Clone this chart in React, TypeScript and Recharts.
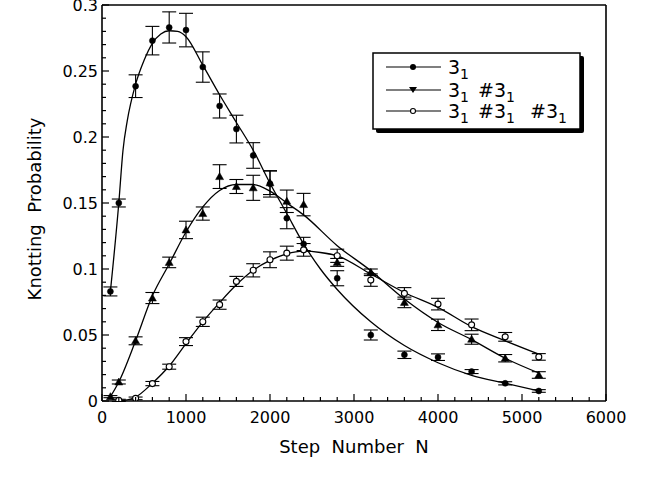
import React from 'react';
import { ComposedChart, Line, XAxis, YAxis, ErrorBar, ReferenceLine, Legend } from 'recharts';

// ---- measured points (filled circles: 3_1) ----
const steps1 = [100, 200, 400, 600, 800, 1000, 1200, 1400, 1600, 1800, 2000, 2200, 2400, 2800, 3200, 3600, 4000, 4400, 4800, 5200];
const prob1 = [0.083, 0.150, 0.2385, 0.273, 0.283, 0.281, 0.253, 0.2235, 0.206, 0.186, 0.1645, 0.1385, 0.119, 0.093, 0.050, 0.035, 0.0332, 0.0223, 0.0134, 0.0076];
const err1 = [0.0034, 0.003, 0.0086, 0.0108, 0.0118, 0.0127, 0.0115, 0.0091, 0.0105, 0.0097, 0.010, 0.008, 0.005, 0.0057, 0.0038, 0.0028, 0.0025, 0.0015, 0.0012, 0.001];

// ---- measured points (triangles: 3_1 # 3_1) ----
const steps2 = [100, 200, 400, 600, 800, 1000, 1200, 1400, 1600, 1800, 2000, 2200, 2400, 2800, 3200, 3600, 4000, 4400, 4800, 5200];
const prob2 = [0.0033, 0.0144, 0.0456, 0.078, 0.105, 0.1296, 0.142, 0.170, 0.1625, 0.1615, 0.1653, 0.1513, 0.1488, 0.105, 0.0975, 0.0747, 0.0577, 0.0468, 0.0324, 0.0197];
const err2 = [0.0008, 0.0015, 0.003, 0.0042, 0.004, 0.0066, 0.005, 0.009, 0.0053, 0.0095, 0.0089, 0.0085, 0.0085, 0.003, 0.0025, 0.004, 0.0043, 0.0038, 0.0028, 0.0025];

// ---- measured points (open circles: 3_1 # 3_1 # 3_1) ----
const steps3 = [200, 400, 600, 800, 1000, 1200, 1400, 1600, 1800, 2000, 2200, 2400, 2800, 3200, 3600, 4000, 4400, 4800, 5200];
const prob3 = [0.0005, 0.002, 0.0132, 0.026, 0.045, 0.060, 0.073, 0.0906, 0.099, 0.107, 0.112, 0.1145, 0.110, 0.0916, 0.0815, 0.0734, 0.0577, 0.0486, 0.0334];
const err3 = [0.0008, 0.001, 0.0016, 0.0019, 0.003, 0.0035, 0.0035, 0.0038, 0.005, 0.006, 0.0053, 0.0048, 0.005, 0.0047, 0.0044, 0.0044, 0.0044, 0.0033, 0.0025];

// ---- fitted curves ----
const fitSteps1 = [100, 200, 250, 300, 400, 500, 600, 700, 800, 900, 1000, 1200, 1400, 1600, 1800, 2000, 2200, 2400, 2600, 2800, 3200, 3600, 4000, 4400, 4800, 5200];
const fitProb1 = [0.083, 0.150, 0.19, 0.212, 0.240, 0.258, 0.271, 0.278, 0.2805, 0.280, 0.276, 0.2544, 0.232, 0.211, 0.190, 0.165, 0.142, 0.119, 0.100, 0.0845, 0.060, 0.042, 0.029, 0.0195, 0.0135, 0.0076];

const fitSteps2 = [100, 200, 400, 600, 800, 1000, 1200, 1400, 1600, 1800, 2000, 2200, 2400, 2800, 3200, 3600, 4000, 4400, 4800, 5200];
const fitProb2 = [0.0033, 0.0144, 0.0456, 0.0797, 0.1038, 0.128, 0.147, 0.1595, 0.164, 0.164, 0.159, 0.150, 0.141, 0.1177, 0.0987, 0.0772, 0.0595, 0.0465, 0.0324, 0.0212];

const fitSteps3 = [200, 300, 400, 600, 800, 1000, 1200, 1400, 1600, 1800, 2000, 2200, 2400, 2600, 2800, 3200, 3600, 4000, 4400, 4800, 5200];
const fitProb3 = [0.0002, 0.0008, 0.003, 0.0135, 0.0265, 0.0435, 0.060, 0.0745, 0.088, 0.099, 0.1065, 0.1115, 0.1135, 0.1125, 0.110, 0.0962, 0.0822, 0.0709, 0.0563, 0.0456, 0.0355];

// ---- ticks ----
const xMajorTicks = [0, 1000, 2000, 3000, 4000, 5000, 6000];
const xMinorStep = 200;
const yMajorTicks = [0, 0.05, 0.1, 0.15, 0.2, 0.25, 0.3];
const yMinorStep = 0.01;

const xTicks = Array.from({ length: 6000 / xMinorStep + 1 }, (_, i) => i * xMinorStep);
const yTicks = Array.from({ length: 31 }, (_, i) => Math.round(i * yMinorStep * 100) / 100);

const rows = (n: number[], p: number[], e?: number[]) =>
  n.map((N, i) => (e ? { N, P: p[i], E: e[i] } : { N, P: p[i] }));

const data1 = rows(steps1, prob1, err1);
const data2 = rows(steps2, prob2, err2);
const data3 = rows(steps3, prob3, err3);
const fit1 = rows(fitSteps1, fitProb1);
const fit2 = rows(fitSteps2, fitProb2);
const fit3 = rows(fitSteps3, fitProb3);

const FONT = '"DejaVu Sans", Verdana, sans-serif';

const XTick = (props: any) => {
  const { x, y, payload } = props;
  const v = payload.value;
  const major = xMajorTicks.includes(v);
  return (
    <g>
      <line x1={x} x2={x} y1={y} y2={y - (major ? 7 : 4)} stroke="#000" strokeWidth={1.2} />
      {major && (
        <text x={x} y={y + 22} textAnchor="middle" fontSize={16} fontFamily={FONT} fill="#000">
          {v}
        </text>
      )}
    </g>
  );
};

const YTick = (props: any) => {
  const { x, y, payload } = props;
  const v = payload.value;
  const major = yMajorTicks.some((m) => Math.abs(m - v) < 1e-9);
  return (
    <g>
      <line x1={x} x2={x + (major ? 7 : 4)} y1={y} y2={y} stroke="#000" strokeWidth={1.2} />
      {major && (
        <text x={x - 4} y={y + 6} textAnchor="end" fontSize={16} fontFamily={FONT} fill="#000">
          {String(v)}
        </text>
      )}
    </g>
  );
};

const dotCircle = (props: any) => {
  const { cx, cy, index } = props;
  return <circle key={`c-${index}`} cx={cx} cy={cy} r={3} fill="#000" stroke="#000" strokeWidth={0.5} />;
};
const dotTriangle = (props: any) => {
  const { cx, cy, index } = props;
  return (
    <path
      key={`t-${index}`}
      d={`M${cx},${cy - 4} L${cx + 4},${cy + 3} L${cx - 4},${cy + 3} Z`}
      fill="#000"
      stroke="#000"
      strokeWidth={0.5}
    />
  );
};
const dotOpen = (props: any) => {
  const { cx, cy, index } = props;
  return <circle key={`o-${index}`} cx={cx} cy={cy} r={3} fill="#fff" stroke="#000" strokeWidth={1.1} />;
};

const Sub = ({ x, y, hash }: { x: number; y: number; hash?: boolean }) => (
  <text x={x} y={y} fontFamily={FONT} fill="#000">
    <tspan fontSize={19}>{hash ? '#3' : '3'}</tspan>
    <tspan fontSize={14} dy={5}>1</tspan>
  </text>
);

const LegendBox = () => {
  const rowsY = [15, 38, 59];
  return (
    <svg width={216} height={84} style={{ display: 'block' }}>
      <rect x={4} y={4} width={208} height={77} rx={2} fill="#000" />
      <rect x={1} y={1} width={207} height={76} fill="#fff" stroke="#000" strokeWidth={1.5} />
      {rowsY.map((ry, i) => (
        <line key={`l${i}`} x1={14} x2={69} y1={ry} y2={ry} stroke="#000" strokeWidth={1.2} />
      ))}
      <circle cx={41} cy={rowsY[0]} r={3} fill="#000" />
      <path d={`M${37},${rowsY[1] - 3} L${45},${rowsY[1] - 3} L${41},${rowsY[1] + 3} Z`} fill="#000" />
      <circle cx={41} cy={rowsY[2]} r={2.5} fill="#fff" stroke="#000" strokeWidth={1.1} />
      <Sub x={76} y={rowsY[0] + 7} />
      <Sub x={76} y={rowsY[1] + 7} />
      <Sub x={106} y={rowsY[1] + 7} hash />
      <Sub x={76} y={rowsY[2] + 7} />
      <Sub x={106} y={rowsY[2] + 7} hash />
      <Sub x={158} y={rowsY[2] + 7} hash />
    </svg>
  );
};

const YLabel = (props: any) => {
  const vb = props.viewBox || { x: 0, y: 5, width: 102, height: 396 };
  const cx = vb.x + 41;
  const cy = vb.y + vb.height / 2 + 6;
  return (
    <text
      transform={`translate(${cx},${cy}) rotate(-90)`}
      textAnchor="middle"
      fontSize={18}
      fontFamily={FONT}
      fill="#000"
      style={{ whiteSpace: 'pre' }}
    >
      {'Knotting  Probability'}
    </text>
  );
};

const XLabel = (props: any) => {
  const vb = props.viewBox || { x: 102, y: 401, width: 504, height: 30 };
  const cx = vb.x + vb.width / 2;
  return (
    <text x={cx} y={vb.y + 52} textAnchor="middle" fontSize={18} fontFamily={FONT} fill="#000" style={{ whiteSpace: 'pre' }}>
      {'Step  Number  N'}
    </text>
  );
};

export default function App() {
  return (
    <div style={{ position: 'absolute', left: 0, top: 0, background: '#fff' }}>
      <ComposedChart width={650} height={477} margin={{ top: 5, right: 44, bottom: 46, left: 0 }}>
        <XAxis
          type="number"
          dataKey="N"
          domain={[0, 6000]}
          ticks={xTicks}
          interval={0}
          tickSize={0}
          tickMargin={0}
          tickLine={false}
          tick={<XTick />}
          axisLine={{ stroke: '#000', strokeWidth: 1.6 }}
          height={30}
          allowDataOverflow
          label={{ content: <XLabel /> }}
        />
        <YAxis
          type="number"
          domain={[0, 0.3]}
          ticks={yTicks}
          interval={0}
          tickSize={0}
          tickMargin={0}
          tickLine={false}
          tick={<YTick />}
          axisLine={{ stroke: '#000', strokeWidth: 1.6 }}
          width={102}
          allowDataOverflow
          label={{ content: <YLabel /> }}
        />
        <ReferenceLine y={0.3} stroke="#000" strokeWidth={1.6} ifOverflow="extendDomain" />
        <ReferenceLine x={6000} stroke="#000" strokeWidth={1.6} ifOverflow="extendDomain" />

        <Line data={fit1} dataKey="P" type="monotone" stroke="#000" strokeWidth={1.3} dot={false} activeDot={false} isAnimationActive={false} />
        <Line data={fit2} dataKey="P" type="monotone" stroke="#000" strokeWidth={1.3} dot={false} activeDot={false} isAnimationActive={false} />
        <Line data={fit3} dataKey="P" type="monotone" stroke="#000" strokeWidth={1.3} dot={false} activeDot={false} isAnimationActive={false} />

        <Line data={data1} dataKey="P" stroke="none" dot={dotCircle} activeDot={false} isAnimationActive={false}>
          <ErrorBar dataKey="E" width={7} stroke="#000" strokeWidth={1.1} direction="y" isAnimationActive={false} />
        </Line>
        <Line data={data2} dataKey="P" stroke="none" dot={dotTriangle} activeDot={false} isAnimationActive={false}>
          <ErrorBar dataKey="E" width={7} stroke="#000" strokeWidth={1.1} direction="y" isAnimationActive={false} />
        </Line>
        <Line data={data3} dataKey="P" stroke="none" dot={dotOpen} activeDot={false} isAnimationActive={false}>
          <ErrorBar dataKey="E" width={7} stroke="#000" strokeWidth={1.1} direction="y" isAnimationActive={false} />
        </Line>

        <Legend
          layout="vertical"
          align="center"
          verticalAlign="middle"
          content={<LegendBox />}
          wrapperStyle={{ left: 372, top: 52, width: 216, height: 84 }}
        />
      </ComposedChart>
    </div>
  );
}
